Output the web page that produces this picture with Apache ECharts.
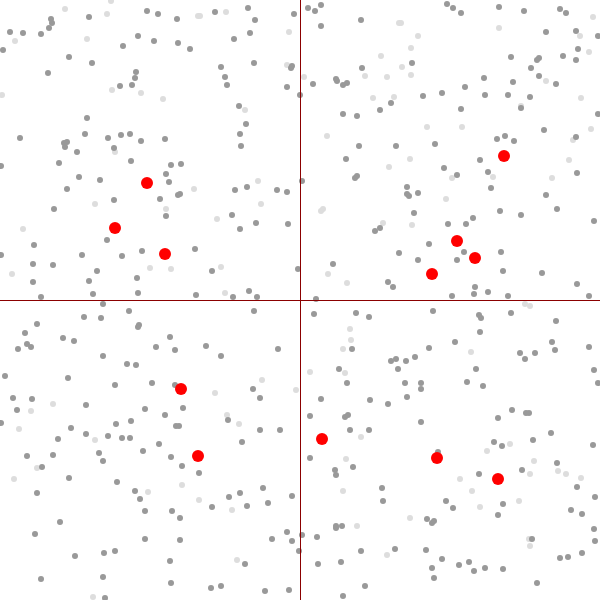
<!DOCTYPE html>
<html>
<head>
<meta charset="utf-8">
<script src="https://cdn.jsdelivr.net/npm/echarts@6/dist/echarts.min.js"></script>
<style>
  html, body { margin: 0; padding: 0; background: #fff; }
  #chart { width: 600px; height: 600px; }
</style>
</head>
<body>
<div id="chart"></div>
<script>
// point positions, x to the right, y downward (0..600)
const darkPoints = [
  [51,19],[52,23],[49,28],[89,17],[10,32],[23,33],[41,34],[147,11],[158,14],[177,19],
  [138,36],[154,41],[178,43],[190,49],[123,46],[3,50],[69,57],[92,63],[48,73],[136,72],
  [135,78],[132,85],[120,86],[87,118],[20,138],[85,134],[108,138],[121,135],[130,134],[141,141],
  [165,139],[64,143],[67,142],[65,147],[77,152],[114,148],[131,161],[59,163],[1,166],[171,165],
  [181,164],[166,174],[169,182],[79,177],[100,180],[67,189],[178,195],[180,194],[160,199],[114,200],
  [215,12],[248,8],[255,20],[294,14],[308,8],[315,11],[321,5],[321,26],[361,20],[250,33],
  [234,39],[254,63],[221,67],[291,68],[292,66],[362,68],[225,77],[227,85],[287,87],[313,84],
  [336,79],[337,81],[343,85],[347,83],[300,95],[239,106],[391,103],[380,110],[343,114],[357,116],
  [246,124],[240,134],[241,146],[359,146],[396,146],[346,159],[355,178],[357,176],[302,181],[235,190],
  [247,187],[277,190],[287,192],
  [447,4],[453,8],[461,13],[499,7],[524,11],[560,9],[566,13],[546,32],[576,31],[598,36],
  [578,49],[412,63],[511,57],[537,60],[539,58],[563,56],[576,60],[531,68],[484,78],[539,76],
  [513,82],[556,84],[465,87],[423,96],[442,93],[485,95],[508,95],[530,97],[461,109],[521,108],
  [598,114],[544,130],[497,139],[505,136],[514,141],[576,137],[435,144],[480,160],[444,168],[457,175],
  [488,172],[577,173],[491,188],[407,187],[407,194],[409,196],[418,193],[546,195],
  [54,209],[166,216],[34,245],[1,255],[33,264],[53,265],[82,255],[107,240],[122,256],[142,251],
  [195,249],[97,271],[89,281],[137,278],[33,282],[93,294],[138,293],[41,297],[196,295],[103,304],
  [129,311],[84,317],[101,318],[37,324],[139,325],[138,327],[25,333],[170,337],[63,338],[74,341],
  [27,344],[31,347],[18,349],[156,347],[175,350],[103,356],[127,364],[136,365],[5,376],[68,378],
  [115,385],[152,383],[175,385],[13,398],[32,399],
  [232,215],[256,223],[240,229],[288,224],[380,228],[375,231],[399,253],[333,264],[212,271],[298,269],
  [388,282],[393,287],[249,291],[233,297],[257,297],[316,299],[254,311],[314,314],[356,313],[369,317],
  [206,346],[278,349],[352,349],[221,356],[391,361],[396,359],[398,369],[339,369],[347,383],[253,389],
  [260,398],[321,399],[370,400],
  [414,213],[500,211],[521,215],[557,209],[594,221],[448,224],[466,224],[473,218],[429,244],[418,260],
  [457,260],[464,252],[501,252],[503,271],[542,273],[577,284],[475,287],[474,294],[488,292],[452,296],
  [508,296],[589,296],[433,311],[479,315],[481,318],[511,313],[556,321],[480,332],[455,342],[429,348],
  [552,342],[555,350],[589,347],[520,353],[535,353],[525,359],[415,357],[406,361],[476,369],[594,370],
  [405,383],[421,383],[421,389],[467,382],[483,386],[598,383],[407,397],
  [17,410],[86,405],[145,409],[165,415],[183,408],[1,423],[71,428],[116,424],[131,421],[176,426],
  [179,426],[58,439],[86,434],[108,436],[122,438],[130,438],[159,444],[27,456],[53,455],[99,453],
  [103,461],[143,451],[171,457],[42,467],[182,466],[199,473],[69,478],[117,482],[37,493],[135,491],
  [140,499],[145,511],[172,511],[180,518],[60,522],[35,534],[145,539],[180,540],[75,556],[104,553],
  [115,551],[170,561],[41,579],[103,577],[171,583],[105,598],
  [388,404],[228,420],[310,416],[345,417],[348,415],[260,430],[280,430],[350,430],[369,430],[242,442],
  [310,458],[335,470],[336,475],[353,467],[263,488],[229,497],[240,493],[292,496],[382,488],[383,501],
  [212,507],[247,506],[268,503],[336,526],[336,528],[342,526],[287,532],[302,535],[317,537],[272,539],
  [292,541],[299,551],[361,551],[395,549],[245,564],[318,564],[341,562],[211,588],[221,586],[265,591],
  [289,590],[365,586],[343,596],
  [421,422],[498,418],[512,410],[526,413],[529,413],[551,433],[533,440],[494,442],[502,446],[593,445],
  [438,452],[557,463],[522,470],[479,474],[577,487],[595,497],[446,501],[453,508],[503,504],[571,510],
  [582,514],[498,515],[427,519],[432,523],[434,521],[594,529],[532,539],[595,541],[426,550],[582,553],
  [442,559],[560,558],[568,557],[459,565],[469,562],[432,568],[474,571],[485,568],[503,569],[434,578],
  [537,583]
];

const lightPoints = [
  [65,9],[111,1],[107,14],[198,16],[15,41],[87,39],[112,90],[141,93],[163,99],[2,95],
  [115,152],[194,189],
  [200,16],[226,12],[289,32],[399,23],[381,56],[287,65],[304,77],[365,76],[387,77],[373,98],
  [394,97],[245,110],[327,136],[389,167],[258,181],
  [401,23],[418,36],[499,28],[593,17],[580,36],[589,52],[411,48],[402,67],[411,75],[546,81],
  [581,98],[521,106],[427,127],[462,127],[591,129],[573,140],[410,159],[569,160],[452,178],[493,177],
  [552,178],[446,199],
  [95,204],[166,209],[23,229],[12,274],[150,268],[171,269],
  [261,204],[217,219],[321,211],[323,209],[383,223],[221,267],[328,274],[347,283],[225,293],[350,329],
  [351,340],[343,349],[310,372],[345,373],[262,380],[215,393],[296,390],
  [412,225],[525,304],[530,306],[471,352],
  [53,404],[31,411],[19,429],[95,440],[37,468],[14,479],[148,492],[182,485],[199,500],[93,597],
  [227,415],[239,424],[361,437],[346,459],[343,491],[232,510],[357,526],[387,555],[237,560],
  [510,444],[487,451],[534,461],[558,471],[566,474],[530,474],[581,478],[460,479],[472,491],[519,501],
  [480,507],[410,518],[529,539],[530,546]
];

const redPoints = [
  [147,183],[115,228],[165,254],[504,156],[457,241],[475,258],[432,274],
  [181,389],[198,456],[322,439],[437,458],[498,479]
];

const crossAt = 300;

const chart = echarts.init(document.getElementById('chart'));

chart.setOption({
  animation: false,
  grid: { left: 0, right: 0, top: 0, bottom: 0 },
  xAxis: {
    type: 'value',
    min: 0,
    max: 600,
    show: false,
  },
  yAxis: {
    type: 'value',
    min: 0,
    max: 600,
    inverse: true,
    show: false,
  },
  series: [
    {
      type: 'scatter',
      data: lightPoints,
      symbolSize: 6,
      itemStyle: { color: '#dddddd', opacity: 1 },
      silent: true,
    },
    {
      type: 'scatter',
      data: darkPoints,
      symbolSize: 6,
      itemStyle: { color: '#999999', opacity: 1 },
      silent: true,
      markLine: {
        silent: true,
        symbol: 'none',
        label: { show: false },
        lineStyle: { color: '#8b0000', width: 1, type: 'solid' },
        data: [{ xAxis: crossAt }, { yAxis: crossAt }],
      },
    },
    {
      type: 'scatter',
      data: redPoints,
      symbolSize: 12,
      itemStyle: { color: '#ff0000', opacity: 1 },
      silent: true,
    },
  ],
});
</script>
</body>
</html>
